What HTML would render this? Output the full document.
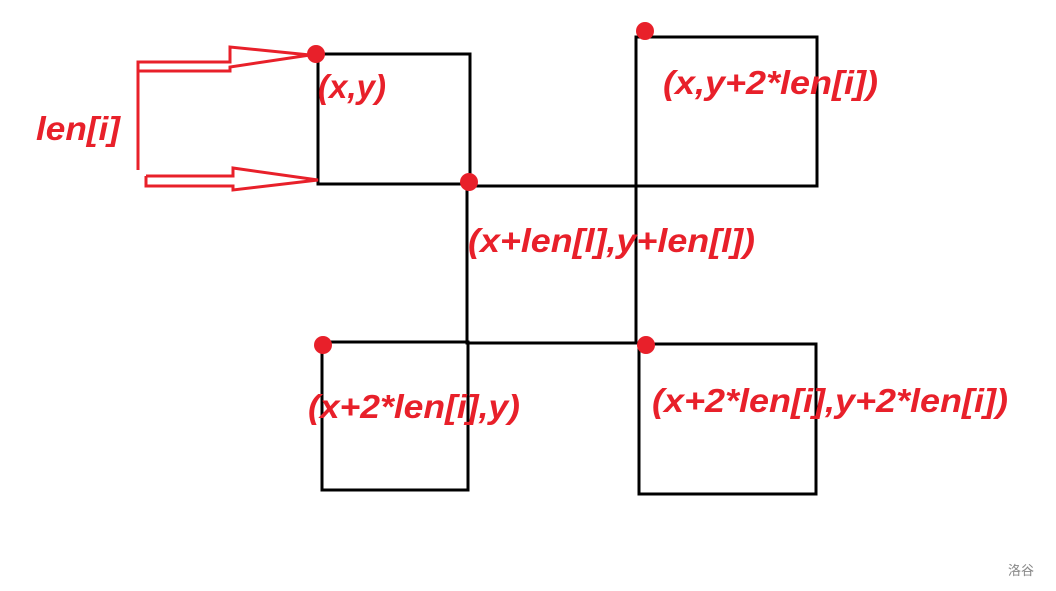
<!DOCTYPE html>
<html><head><style>body{margin:0;background:#fff}svg{display:block}</style></head><body>
<svg width="1056" height="591" xmlns="http://www.w3.org/2000/svg">
<g fill="none" stroke="#000" stroke-width="3">
<rect x="318" y="54" width="152" height="130"/>
<rect x="636" y="37" width="181" height="149"/>
<rect x="467" y="186" width="169" height="157"/>
<rect x="322" y="342" width="146" height="148"/>
<rect x="639" y="344" width="177" height="150"/>
</g>
<g fill="none" stroke="#e8202a" stroke-width="3">
<polyline points="138,170 138,62 230,62 230,47 310,55 230,67 230,71 138,71"/>
<polyline points="146,176 233,176 233,168 318,180 233,190 233,186 146,186 146,176"/>
</g>
<g fill="#e8202a">
<circle cx="316" cy="54" r="9"/><circle cx="469" cy="182" r="9"/>
<circle cx="645" cy="31" r="9"/><circle cx="323" cy="345" r="9"/>
<circle cx="646" cy="345" r="9"/>
</g>
<g fill="#e8202a" font-family="Liberation Sans, sans-serif" font-style="italic" font-weight="bold" font-size="33">
<text x="36" y="140" textLength="84" lengthAdjust="spacingAndGlyphs">len[i]</text>
<text x="318" y="98" textLength="68" lengthAdjust="spacingAndGlyphs">(x,y)</text>
<text x="663" y="94" textLength="215" lengthAdjust="spacingAndGlyphs">(x,y+2*len[i])</text>
<text x="468" y="252" textLength="287" lengthAdjust="spacingAndGlyphs">(x+len[l],y+len[l])</text>
<text x="308" y="418" textLength="212" lengthAdjust="spacingAndGlyphs">(x+2*len[i],y)</text>
<text x="652" y="412" textLength="356" lengthAdjust="spacingAndGlyphs">(x+2*len[i],y+2*len[i])</text>
</g>
<text x="1008" y="575" font-family="Noto Sans CJK SC, sans-serif" font-size="13" fill="#888">洛谷</text>
</svg>
</body></html>
